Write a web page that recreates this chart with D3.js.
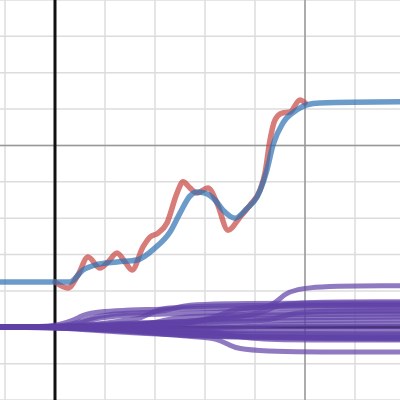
<!DOCTYPE html>
<html><head><meta charset="utf-8">
<script src="https://cdn.jsdelivr.net/npm/d3@7"></script>
<style>html,body{margin:0;padding:0;background:#fff;overflow:hidden}</style>
</head><body><div id="chart"></div>
<script>
// x/y domains (graph units)
const xDomain = [-1.1, 6.9];
const yDomain = [-2, 9];
const minorXTicks = [-1, 0, 1, 2, 3, 4, 5, 6];
const minorYTicks = [-2, -1, 0, 1, 2, 3, 4, 5, 6, 7, 8, 9];
const majorXTicks = [5];
const majorYTicks = [5];

// smooth fit (blue)
const blueSeries = [[-1.2,1.245],[0,1.245],[0.3,1.245],[0.56,1.575],[0.8,1.71],[1.24,1.795],[1.64,1.85],[2.0,2.18],[2.3,2.62],[2.5,3.14],[2.7,3.61],[2.84,3.72],[3.0,3.69],[3.2,3.5],[3.36,3.22],[3.6,3.0],[3.84,3.27],[4.04,3.58],[4.24,4.33],[4.36,5.01],[4.56,5.62],[4.84,5.98],[5.04,6.12],[5.3,6.17],[6.9,6.2]];
// oscillating series (red)
const redSeries = [[0,1.245],[0.26,1.08],[0.46,1.44],[0.66,1.93],[0.9,1.63],[1.06,1.795],[1.24,2.04],[1.4,1.795],[1.54,1.575],[1.76,2.21],[1.9,2.48],[2.06,2.59],[2.24,2.87],[2.44,3.69],[2.56,4.0],[2.7,3.83],[2.84,3.69],[3.06,3.83],[3.24,3.42],[3.46,2.67],[3.7,3.03],[3.9,3.36],[4.1,3.77],[4.2,4.24],[4.3,5.15],[4.4,5.7],[4.54,5.89],[4.7,5.92],[4.9,6.25],[5.0,6.17]];
// many purple curves
const purpleSeries = [
  [[-1.2,0],[0,0],[0.2,0],[0.7,0.2],[1.2,0.36],[4.2,0.39],[4.5,0.8],[4.8,1.14],[6.9,1.14]],
  [[-1.2,0],[0.8,0],[1.7,-0.12],[2.6,-0.25],[3.2,-0.28],[3.5,-0.5],[3.8,-0.68],[6.9,-0.68]],
  [[-1.2,0],[0.1,0],[0.5,0.3],[0.9,0.52],[6.9,0.55]],
  [[-1.2,0],[0.2,0],[0.6,0.2],[1.0,0.38],[2.1,0.4],[2.45,0.55],[2.8,0.67],[6.9,0.67]],
  [[-1.2,0],[0.5,0],[1.5,0.22],[1.7,0.23],[2.0,0.45],[2.3,0.6],[6.9,0.62]],
  [[-1.2,0],[0.6,0],[1.6,0.12],[3.0,0.15],[3.4,0.4],[3.8,0.6],[6.9,0.6]],
  [[-1.2,0],[0.3,0],[2.0,0.1],[4.0,0.3],[4.3,0.5],[4.6,0.7],[6.9,0.7]],
  [[-1.2,0],[0.4,0],[2.2,0.12],[4.2,0.14],[4.55,0.3],[4.9,0.45],[6.9,0.46]],
  [[-1.2,0],[6.9,0.02]],
  [[-1.2,0],[0.4,0],[2.5,-0.1],[6.9,-0.1]],
  [[-1.2,0],[0.2,0],[1.5,-0.15],[6.9,-0.18]],
  [[-1.2,0],[0.3,0],[2.0,-0.25],[6.9,-0.3]],
  [[-1.2,0],[0.5,0],[1.8,-0.12],[3.3,-0.15],[3.65,-0.25],[4.0,-0.35],[6.9,-0.35]],
  [[-1.2,0],[0.8,0],[1.8,0.05],[2.15,0.18],[2.5,0.3],[3.5,0.32],[4.2,0.42],[6.9,0.43]],
  [[-1.2,0],[0.2,0],[1.2,0.15],[6.9,0.2]],
  [[-1.2,0],[0.5,0],[2.5,0.08],[2.85,0.17],[3.2,0.25],[6.9,0.28]],
  [[-1.2,0],[1.0,0],[2.0,-0.05],[3.0,-0.08],[3.3,-0.15],[3.6,-0.22],[6.9,-0.22]],
  [[-1.2,0],[0.5,0],[3.0,-0.3],[6.9,-0.32]],
  [[-1.2,0],[0.7,0],[2.9,-0.2],[3.5,-0.27],[6.9,-0.27]],
  [[-1.2,0],[1.2,0],[2.6,0.06],[3.0,0.2],[3.4,0.35],[6.9,0.36]],
  [[-1.2,0],[0.6,0],[3.6,-0.05],[4.3,0.1],[6.9,0.1]]
];

const W = 400, H = 400;
const x = d3.scaleLinear().domain(xDomain).range([0, W]);
const y = d3.scaleLinear().domain(yDomain).range([H, 0]);

const svg = d3.select("#chart").append("svg").attr("width", W).attr("height", H);
svg.append("rect").attr("width", W).attr("height", H).attr("fill", "#fff");

// minor grid
svg.append("g").selectAll("line").data(minorXTicks).join("line")
  .attr("x1", d => x(d)).attr("x2", d => x(d)).attr("y1", 0).attr("y2", H)
  .attr("stroke", "#dcdcdc").attr("stroke-width", 1.5);
svg.append("g").selectAll("line").data(minorYTicks).join("line")
  .attr("y1", d => y(d)).attr("y2", d => y(d)).attr("x1", 0).attr("x2", W)
  .attr("stroke", "#dcdcdc").attr("stroke-width", 1.5);
// major grid
svg.append("g").selectAll("line").data(majorXTicks).join("line")
  .attr("x1", d => x(d)).attr("x2", d => x(d)).attr("y1", 0).attr("y2", H)
  .attr("stroke", "#999").attr("stroke-width", 1.5);
svg.append("g").selectAll("line").data(majorYTicks).join("line")
  .attr("y1", d => y(d)).attr("y2", d => y(d)).attr("x1", 0).attr("x2", W)
  .attr("stroke", "#999").attr("stroke-width", 1.5);
// axes
svg.append("line").attr("x1", x(0)).attr("x2", x(0)).attr("y1", 0).attr("y2", H)
  .attr("stroke", "#111").attr("stroke-width", 3);
svg.append("line").attr("y1", y(0)).attr("y2", y(0)).attr("x1", 0).attr("x2", W)
  .attr("stroke", "#111").attr("stroke-width", 3);

const line = d3.line().x(d => x(d[0])).y(d => y(d[1])).curve(d3.curveMonotoneX);
const softLine = d3.line().x(d => x(d[0])).y(d => y(d[1])).curve(d3.curveBasis);

svg.append("g").selectAll("path").data(purpleSeries).join("path")
  .attr("d", softLine).attr("fill", "none").attr("stroke", "#6042a6")
  .attr("stroke-width", 5).attr("stroke-opacity", 0.7).attr("stroke-linecap", "round");

svg.append("path").datum(redSeries).attr("d", line).attr("fill", "none")
  .attr("stroke", "#c74440").attr("stroke-width", 5.5).attr("stroke-opacity", 0.7)
  .attr("stroke-linecap", "round").attr("stroke-linejoin", "round");
svg.append("path").datum(blueSeries).attr("d", line).attr("fill", "none")
  .attr("stroke", "#2d70b3").attr("stroke-width", 5.5).attr("stroke-opacity", 0.7)
  .attr("stroke-linecap", "round").attr("stroke-linejoin", "round");
</script></body></html>
